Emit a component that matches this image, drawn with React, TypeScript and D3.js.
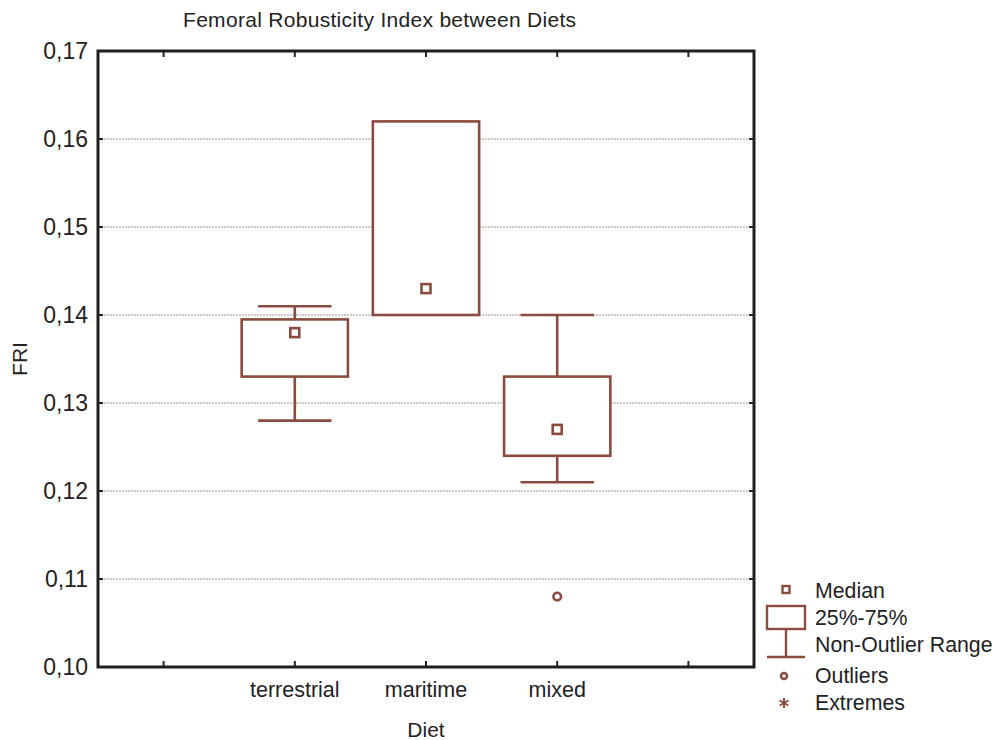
import * as d3 from 'd3';
import React, { useEffect, useRef } from 'react';

// values
const categories = ['terrestrial', 'maritime', 'mixed'];
const medians = [0.138, 0.143, 0.127];
const q1 = [0.133, 0.14, 0.124];
const q3 = [0.1395, 0.162, 0.133];
const whiskerLow = [0.128, 0.14, 0.121];
const whiskerHigh = [0.141, 0.162, 0.14];
const outliers = [[], [], [0.108]];
const yTicks = [0.1, 0.11, 0.12, 0.13, 0.14, 0.15, 0.16, 0.17];
const legendLabels = ['Median', '25%-75%', 'Non-Outlier Range', 'Outliers', 'Extremes'];

const W = 997;
const H = 740;
const margin = { left: 98, right: 243, top: 51, bottom: 73 };
const BROWN = '#8b4c3f';
const FONT = '"Liberation Sans", Arial, sans-serif';

const commaFormat = d3.formatLocale({
  decimal: ',',
  thousands: '.',
  grouping: [3],
  currency: ['', ''],
}).format('.2f');

const App = () => {
  const svgRef = useRef(null);

  useEffect(() => {
    const svg = d3.select(svgRef.current);
    svg.selectAll('*').remove();

    const x0 = margin.left;
    const x1 = W - margin.right;
    const y0 = margin.top;
    const y1 = H - margin.bottom;

    // two empty slots either side of the categories
    const slots = ['_a', ...categories, '_b'];
    const xScale = d3.scalePoint().domain(slots).range([x0, x1]).padding(0.5);
    const step = xScale.step();
    const yScale = d3.scaleLinear().domain([0.1, 0.17]).range([y1, y0]);

    // title
    svg
      .append('text')
      .attr('x', 183)
      .attr('y', 27)
      .attr('font-family', FONT)
      .attr('font-size', 21)
      .attr('letter-spacing', 0.3)
      .attr('fill', '#222')
      .text('Femoral Robusticity Index between Diets');

    // grid lines
    svg
      .append('g')
      .selectAll('line')
      .data(yTicks.filter((t) => t > 0.1 && t < 0.17))
      .enter()
      .append('line')
      .attr('x1', x0)
      .attr('x2', x1)
      .attr('y1', (d) => yScale(d))
      .attr('y2', (d) => yScale(d))
      .attr('stroke', '#c2b2b2')
      .attr('stroke-width', 1.5)
      .attr('stroke-dasharray', '2,1');

    // left axis labels and ticks
    const yAxis = svg.append('g');
    yAxis
      .selectAll('text')
      .data(yTicks)
      .enter()
      .append('text')
      .attr('x', x0 - 10)
      .attr('y', (d) => yScale(d))
      .attr('dy', '0.35em')
      .attr('text-anchor', 'end')
      .attr('font-family', FONT)
      .attr('font-size', 23)
      .attr('fill', '#222')
      .text((d) => commaFormat(d));
    yAxis
      .selectAll('line.l')
      .data(yTicks)
      .enter()
      .append('line')
      .attr('x1', x0)
      .attr('x2', x0 + 5)
      .attr('y1', (d) => yScale(d))
      .attr('y2', (d) => yScale(d))
      .attr('stroke', '#222')
      .attr('stroke-width', 2);
    yAxis
      .selectAll('line.r')
      .data(yTicks)
      .enter()
      .append('line')
      .attr('x1', x1 - 5)
      .attr('x2', x1)
      .attr('y1', (d) => yScale(d))
      .attr('y2', (d) => yScale(d))
      .attr('stroke', '#222')
      .attr('stroke-width', 2);

    // x ticks top and bottom
    const xAxis = svg.append('g');
    slots.forEach((s) => {
      const cx = xScale(s);
      xAxis.append('line').attr('x1', cx).attr('x2', cx).attr('y1', y1).attr('y2', y1 - 6).attr('stroke', '#222').attr('stroke-width', 2);
      xAxis.append('line').attr('x1', cx).attr('x2', cx).attr('y1', y0).attr('y2', y0 + 6).attr('stroke', '#222').attr('stroke-width', 2);
    });
    xAxis
      .selectAll('text')
      .data(categories)
      .enter()
      .append('text')
      .attr('x', (d) => xScale(d))
      .attr('y', y1 + 30)
      .attr('text-anchor', 'middle')
      .attr('font-family', FONT)
      .attr('font-size', 21.5)
      .attr('fill', '#222')
      .text((d) => d);

    // axis titles
    svg
      .append('text')
      .attr('x', xScale('maritime'))
      .attr('y', 737)
      .attr('text-anchor', 'middle')
      .attr('font-family', FONT)
      .attr('font-size', 21)
      .attr('fill', '#222')
      .text('Diet');
    svg
      .append('text')
      .attr('transform', `translate(27, ${(y0 + y1) / 2}) rotate(-90)`)
      .attr('text-anchor', 'middle')
      .attr('font-family', FONT)
      .attr('font-size', 21)
      .attr('fill', '#222')
      .text('FRI');

    // boxes
    const boxW = step * 0.81;
    const capW = step * 0.56;
    const g = svg.append('g').attr('fill', 'none').attr('stroke', BROWN).attr('stroke-width', 2.6);
    categories.forEach((c, i) => {
      const cx = xScale(c);
      if (whiskerHigh[i] > q3[i]) {
        g.append('line').attr('x1', cx).attr('x2', cx).attr('y1', yScale(q3[i])).attr('y2', yScale(whiskerHigh[i]));
        g.append('line').attr('x1', cx - capW / 2).attr('x2', cx + capW / 2).attr('y1', yScale(whiskerHigh[i])).attr('y2', yScale(whiskerHigh[i]));
      }
      if (whiskerLow[i] < q1[i]) {
        g.append('line').attr('x1', cx).attr('x2', cx).attr('y1', yScale(q1[i])).attr('y2', yScale(whiskerLow[i]));
        g.append('line').attr('x1', cx - capW / 2).attr('x2', cx + capW / 2).attr('y1', yScale(whiskerLow[i])).attr('y2', yScale(whiskerLow[i]));
      }
      g.append('rect')
        .attr('x', cx - boxW / 2)
        .attr('y', yScale(q3[i]))
        .attr('width', boxW)
        .attr('height', yScale(q1[i]) - yScale(q3[i]))
        .attr('fill', 'white');
      g.append('rect')
        .attr('x', cx - 4.5)
        .attr('y', yScale(medians[i]) - 4.5)
        .attr('width', 9)
        .attr('height', 9)
        .attr('fill', 'white');
      outliers[i].forEach((o) => {
        g.append('circle').attr('cx', cx).attr('cy', yScale(o)).attr('r', 3.8).attr('fill', 'white');
      });
    });

    // frame
    svg
      .append('rect')
      .attr('x', x0)
      .attr('y', y0)
      .attr('width', x1 - x0)
      .attr('height', y1 - y0)
      .attr('fill', 'none')
      .attr('stroke', '#1e1e1e')
      .attr('stroke-width', 3);

    // legend
    const lg = svg.append('g');
    const lx = 786;
    const tx = 815;
    const textYs = [591, 618, 645, 676, 703];
    lg.selectAll('text')
      .data(legendLabels)
      .enter()
      .append('text')
      .attr('x', tx)
      .attr('y', (d, i) => textYs[i])
      .attr('dy', '0.35em')
      .attr('font-family', FONT)
      .attr('font-size', 21.3)
      .attr('fill', '#222')
      .text((d) => d);
    const ls = lg.append('g').attr('fill', 'none').attr('stroke', BROWN).attr('stroke-width', 2.4);
    ls.append('rect').attr('x', lx - 3.5).attr('y', 586).attr('width', 7).attr('height', 7).attr('fill', 'white');
    ls.append('rect').attr('x', 767).attr('y', 606).attr('width', 38).attr('height', 23);
    ls.append('line').attr('x1', lx).attr('x2', lx).attr('y1', 629).attr('y2', 657);
    ls.append('line').attr('x1', 767).attr('x2', 805).attr('y1', 657).attr('y2', 657);
    ls.append('circle').attr('cx', 784).attr('cy', 676).attr('r', 3).attr('fill', 'white');
    ls.append('path')
      .attr('transform', 'translate(784, 703)')
      .attr('stroke-width', 2)
      .attr('d', d3.symbol(d3.symbolAsterisk, 70)());
  }, []);

  return (
    <div style={{ position: 'absolute', left: 0, top: 0 }}>
      <svg ref={svgRef} width={W} height={H} style={{ display: 'block', background: 'white' }}></svg>
    </div>
  );
};

export default App;
